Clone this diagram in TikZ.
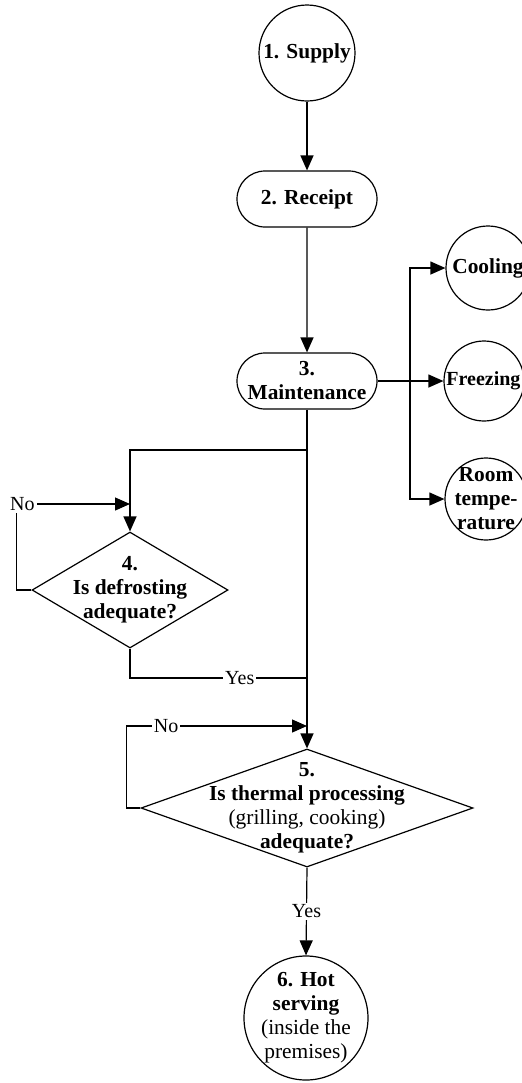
\documentclass[tikz,border=0pt]{standalone}
\usepackage{fontspec}
\setmainfont{Liberation Serif}
\usetikzlibrary{shapes.geometric,shapes.misc,arrows.meta}
\begin{document}
\begin{tikzpicture}[x=0.5pt,y=-0.5pt, line width=0.6pt,
 every node/.style={font=\fontsize{10.7}{12}\selectfont},
 arr/.style={-{Triangle[length=7.5pt,width=6.5pt]}},
 stad/.style={draw, rounded rectangle, minimum width=70pt, minimum height=28pt, inner sep=0pt, align=center, font=\fontsize{10.7}{12}\selectfont\bfseries},
 circ/.style={draw, circle, inner sep=0pt},
 dia/.style={draw, diamond, inner sep=0pt},
 btext/.style={align=center, font=\fontsize{10.7}{12}\selectfont\bfseries},
 rtext/.style={align=center, font=\fontsize{10.7}{12}\selectfont},
 lbl/.style={fill=white, inner sep=1pt, font=\fontsize{10}{12}\selectfont}
]
\useasboundingbox (0,0) rectangle (521,1083);

\node[circ, minimum size=48pt, label={[btext]center:1. Supply}] (n1) at (307,53) {};
\node[stad] (n2) at (307,199) {2. Receipt};
\node[stad] (n3) at (307,381) {3.\\Maintenance};
\node[circ, minimum size=42pt, label={[btext]center:Cooling}] (cool) at (488,268) {};
\node[circ, minimum size=40pt, label={[btext,font=\fontsize{10}{12}\selectfont\bfseries,xshift=-0.3pt]center:Freezing}] (freeze) at (484,381) {};
\node[circ, minimum size=41pt, label={[btext]center:Room\\tempe-\\rature}] (room) at (486,499) {};
\node[dia, minimum width=98pt, minimum height=58pt, label={[btext]center:4.\\Is defrosting\\adequate?}] (d4) at (130,590) {};
\node[dia, minimum width=166pt, minimum height=59pt, label={[rtext]center:{\textbf{5.}\\\textbf{Is thermal processing}\\(grilling, cooking)\\\textbf{adequate?}}}] (d5) at (307,808) {};
\node[circ, minimum size=62pt, label={[rtext]center:{\textbf{6. Hot}\\\textbf{serving}\\(inside the\\premises)}}] (n6) at (306,1018) {};

\coordinate (b1) at (307,450);
\coordinate (m4) at (130,504);
\coordinate (j2) at (307,678);
\coordinate (m5) at (307,726);
\coordinate (j3) at (410,381);

\draw[arr] (n1) -- (n2);
\draw[arr] (n2) -- (n3);
\draw[arr] (n3.south) -- (d5.north);
\draw[arr] (b1) -| (d4.north);
\draw[arr] (d4.west) -- ++(-15,0) |- node[lbl,pos=0.5,xshift=3pt]{No} (m4);
\draw (d4.south) |- node[lbl,pos=0.81]{Yes} (j2);
\draw[arr] (d5.west) -- ++(-14,0) |- node[lbl,pos=0.61]{No} (m5);
\draw[arr] (d5.south) -- node[lbl]{Yes} (n6.north);
\draw[arr] (n3.east) -- (freeze.west);
\draw[arr] (j3) |- (cool.west);
\draw[arr] (j3) |- (room.west);
\end{tikzpicture}
\end{document}
